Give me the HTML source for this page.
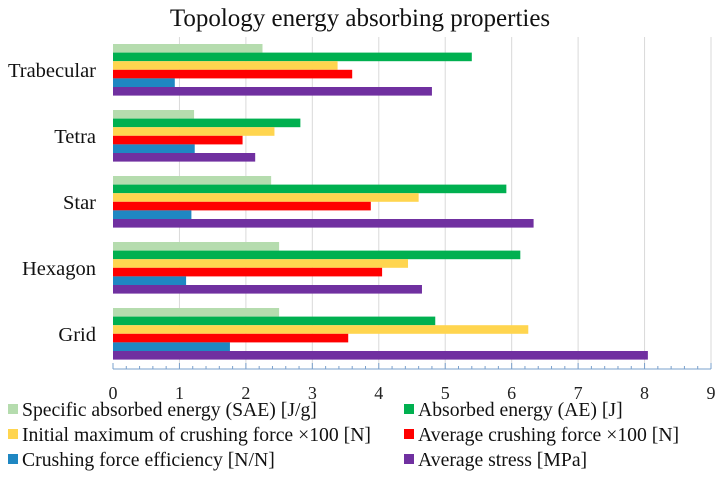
<!DOCTYPE html>
<html><head><meta charset="utf-8"><style>
body{margin:0;background:#fff;}
svg{display:block;font-family:"Liberation Serif",serif;}
</style></head><body>
<svg id="chart" width="721" height="478">
<text x="360" y="26" text-anchor="middle" font-size="25" fill="#111">Topology energy absorbing properties</text>
<g id="grid"></g><g id="bars"></g><g id="axis"></g><g id="legend"></g>
</svg>
<script>
const categories=["Trabecular","Tetra","Star","Hexagon","Grid"];
const seriesNames=["Specific absorbed energy (SAE) [J/g]","Absorbed energy (AE) [J]","Initial maximum of crushing force ×100 [N]","Average crushing force ×100 [N]","Crushing force efficiency [N/N]","Average stress [MPa]"];
const seriesColors=["#b5dcae","#00b050","#ffd54f","#ff0000","#1f87c2","#7030a0"];
const sae=[2.25,1.22,2.38,2.5,2.5];
const ae=[5.4,2.82,5.92,6.13,4.85];
const initForce=[3.38,2.43,4.6,4.44,6.25];
const avgForce=[3.6,1.95,3.88,4.05,3.54];
const cfe=[0.93,1.23,1.18,1.1,1.76];
const stress=[4.8,2.14,6.33,4.65,8.05];
const ticks=[0,1,2,3,4,5,6,7,8,9];
const series=[sae,ae,initForce,avgForce,cfe,stress];
const NS="http://www.w3.org/2000/svg";
const x0=113,x1=711,xmax=9,plotTop=37,axisY=369,band=66,barH=8.6;
const X=v=>x0+(x1-x0)*v/xmax;
function mk(t,a,p){const e=document.createElementNS(NS,t);for(const k in a)e.setAttribute(k,a[k]);p.appendChild(e);return e;}
const g=document.getElementById('grid'),b=document.getElementById('bars'),ax=document.getElementById('axis'),lg=document.getElementById('legend');
ticks.forEach(t=>{if(t>0){const l=mk('line',{x1:X(t),x2:X(t),y1:plotTop,y2:axisY,stroke:'#d9d9d9','stroke-width':1},g);

}
const tl=mk('line',{x1:X(t),x2:X(t),y1:axisY-6,y2:axisY,stroke:'#7aa0cc','stroke-width':1},ax);


const tx=mk('text',{x:X(t),y:axisY+30,'text-anchor':'middle','font-size':18,fill:'#222'},ax);tx.textContent=t;


if(t<xmax)for(let m=1;m<5;m++){const ml=mk('line',{x1:X(t+m/5),x2:X(t+m/5),y1:axisY-3,y2:axisY,stroke:'#7aa0cc','stroke-width':1},ax);

}});
const al=mk('line',{x1:x0,x2:x1,y1:axisY,y2:axisY,stroke:'#7aa0cc','stroke-width':1},ax);


categories.forEach((c,i)=>{const gy=plotTop+7+i*band;
const ct=mk('text',{x:96,y:gy+26+7,'text-anchor':'end','font-size':20.5,fill:'#111'},ax);ct.textContent=c;


series.forEach((s,j)=>{const r=mk('rect',{x:x0,y:gy+j*barH,width:X(s[i])-x0,height:barH,fill:seriesColors[j]},b);

});});
const ly=[410,435,460],lx=[8,404];
seriesNames.forEach((n,j)=>{const x=lx[j%2],y=ly[Math.floor(j/2)];
const sw=mk('rect',{x:x,y:y-6,width:10,height:10,fill:seriesColors[j]},lg);


const t=mk('text',{x:x+14,y:y+6,'font-size':19.7,fill:'#111'},lg);t.textContent=n;

});
</script>
</body></html>
